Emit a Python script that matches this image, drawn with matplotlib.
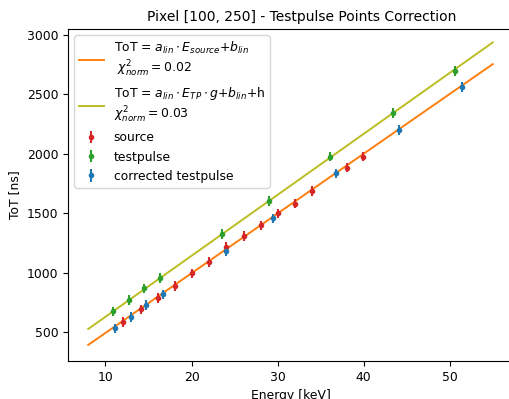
import numpy as np
import matplotlib
matplotlib.use('Agg')
import matplotlib.pyplot as plt

E_source = [12.02, 14.14, 16.11, 18.08, 20.01, 21.98, 23.95, 26.07, 28.04,
            30.01, 31.98, 33.95, 38.01, 39.98]
ToT_source = [584, 689, 787, 885, 992, 1088, 1217, 1307, 1397,
              1498, 1579, 1686, 1883, 1975]

E_tp = [10.89, 12.79, 14.53, 16.30, 23.57, 28.97, 36.12, 43.42, 50.61]
ToT_tp = [672, 767, 866, 953, 1324, 1602, 1975, 2341, 2698]

E_corr = [11.09, 12.98, 14.76, 16.65, 24.03, 29.48, 36.78, 44.11, 51.41]
ToT_corr = [529, 624, 725, 815, 1183, 1456, 1835, 2200, 2560]

tot_err = 40

# fit results
a_lin, b_lin = 50.3, -12.0
a_tp, b_tp = 51.33, 114.0
E_range = [8, 55]

plt.rcParams['font.size'] = 8.9

fig = plt.figure(figsize=(5.10, 3.99), dpi=100)
ax = fig.add_axes([68 / 510, 38 / 399, 445 / 510, 332 / 399])

E_fit = np.linspace(E_range[0], E_range[1], 100)
ax.plot(E_fit, a_lin * E_fit + b_lin, color='tab:orange', lw=1.4,
        label='ToT = $a_{lin} \\cdot E_{source}$+$b_{lin}$\n $\\chi^2_{norm} = 0.02$')
ax.plot(E_fit, a_tp * E_fit + b_tp, color='tab:olive', lw=1.4,
        label='ToT = $a_{lin} \\cdot E_{TP} \\cdot g$+$b_{lin}$+h\n$\\chi^2_{norm} = 0.03$')

ax.errorbar(E_source, ToT_source, yerr=tot_err, fmt='.', color='tab:red',
            elinewidth=1.5, label='source')
ax.errorbar(E_tp, ToT_tp, yerr=tot_err, fmt='.', color='tab:green',
            elinewidth=1.5, label='testpulse')
ax.errorbar(E_corr, ToT_corr, yerr=tot_err, fmt='.', color='tab:blue',
            elinewidth=1.5, label='corrected testpulse')

ax.set_xlim(5.65, 57.35)
ax.set_ylim(255, 3050)
ax.set_xlabel('Energy [keV]')
ax.set_ylabel('ToT [ns]')
ax.set_title('Pixel [100, 250] - Testpulse Points Correction', fontsize=10, x=0.526)
ax.legend(loc='upper left')

fig.savefig('out.png', dpi=100)
